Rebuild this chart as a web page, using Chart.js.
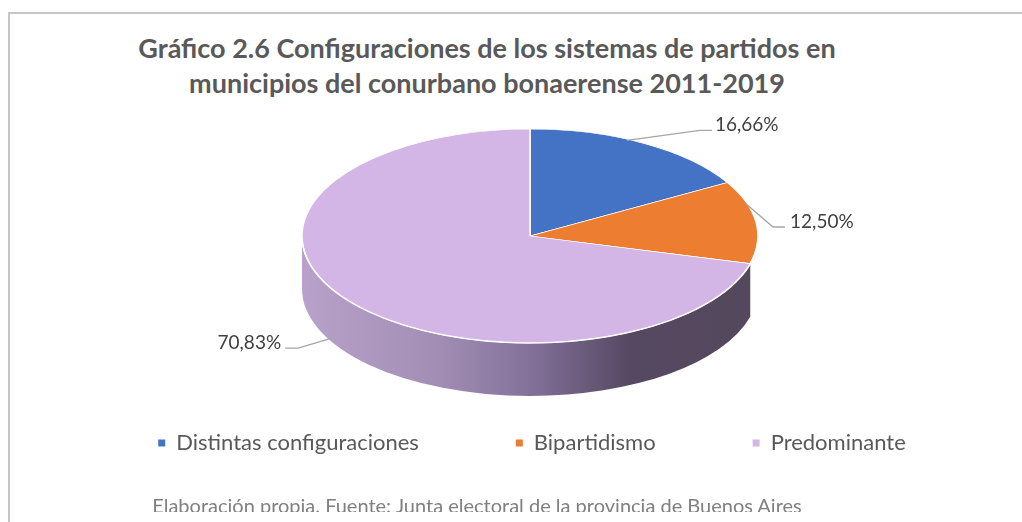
<!DOCTYPE html>
<html lang="es">
<head>
<meta charset="utf-8">
<title>Gráfico 2.6</title>
<script src="https://cdn.jsdelivr.net/npm/chart.js"></script>
<style>
  body { margin: 0; background: #fff; }
  #wrap { position: relative; width: 1022px; height: 522px; overflow: hidden; font-family: Lato, sans-serif; }
  #frame { position: absolute; left: 8px; top: 12px; width: 1040px; height: 600px; border: 2px solid #c6c6c6; box-sizing: border-box; }
  #title { position: absolute; left: 0; top: 30px; width: 974px; text-align: center; font-weight: bold; font-size: 27px; line-height: 35px; color: #595959; }
  #note { position: absolute; left: 0; top: 493px; width: 954px; height: 19px; overflow: hidden; text-align: center; font-size: 20px; line-height: 24px; color: #808080; }
  canvas { position: absolute; left: 0; top: 0; }
</style>
</head>
<body>
<div id="wrap">
  <div id="frame"></div>
  <div id="title">Gráfico 2.6 Configuraciones de los sistemas de partidos en<br>municipios del conurbano bonaerense 2011-2019</div>
  <canvas id="pieChart" width="1022" height="522"></canvas>
  <div id="note">Elaboración propia. Fuente: Junta electoral de la provincia de Buenos Aires</div>
</div>
<script>
// Datos del gráfico
const categories = ["Distintas configuraciones", "Bipartidismo", "Predominante"];
const shares = [16.66, 12.5, 70.83];
const sliceColors = ["#4472C4", "#ED7D31", "#D3B5E6"];

// Geometría del pastel 3D (centro, achatamiento y espesor)
const pie = { cx: 530, cy: 236, rx: 228, ry: 107, depth: 53 };

// Líneas guía de las etiquetas, relativas al punto medio del borde de cada porción
const leaderLayout = [
  { start: [-17, -3], elbow: [56, -13], end: [68, -13], text: [3, -5], align: "left" },
  { start: [-11, -19], elbow: [17, 5], end: [29, 5], text: [5, -5], align: "left" },
  { start: [-14, 36], elbow: [-51, 47], end: [-64, 47], text: [-4, -5], align: "right" },
];

function formatShare(v) {
  return v.toFixed(2).replace(".", ",") + "%";
}

// Degradado horizontal del lateral
function sideFill(ctx) {
  const g = ctx.createLinearGradient(pie.cx - pie.rx, 0, pie.cx + pie.rx, 0);
  g.addColorStop(0, "#b8a1ca");
  g.addColorStop(0.3, "#a28eb4");
  g.addColorStop(0.5, "#83719a");
  g.addColorStop(0.72, "#564862");
  g.addColorStop(1, "#54485c");
  return g;
}

const pie3d = {
  id: "pie3d",
  beforeDatasetsDraw(chart) {
    const ctx = chart.ctx;
    const arcs = chart.getDatasetMeta(0).data;
    const ref = arcs[0];

    // Lateral visible de la porción mayor, en la mitad delantera (0..PI)
    const big = arcs[arcs.length - 1];
    const a1 = Math.max(big.startAngle, 0);
    const a2 = Math.min(big.endAngle, Math.PI);
    ctx.save();
    ctx.beginPath();
    ctx.ellipse(pie.cx, pie.cy, pie.rx, pie.ry, 0, a1, a2, false);
    ctx.ellipse(pie.cx, pie.cy + pie.depth, pie.rx, pie.ry, 0, a2, a1, true);
    ctx.closePath();
    ctx.fillStyle = sideFill(ctx);
    ctx.fill();
    ctx.restore();

    // La tapa: el pastel de Chart.js achatado en vertical
    ctx.save();
    ctx.translate(pie.cx, pie.cy);
    ctx.scale(1, pie.ry / ref.outerRadius);
    ctx.translate(-ref.x, -ref.y);
  },
  afterDatasetsDraw(chart) {
    const ctx = chart.ctx;
    ctx.restore();

    // Brillo blanco en el canto delantero
    ctx.save();
    ctx.beginPath();
    ctx.ellipse(pie.cx, pie.cy, pie.rx, pie.ry, 0, 0.02, Math.PI - 0.02, false);
    ctx.strokeStyle = "rgba(255,255,255,0.9)";
    ctx.lineWidth = 1.5;
    ctx.stroke();
    ctx.restore();

    // Etiquetas de porcentaje con línea guía
    const arcs = chart.getDatasetMeta(0).data;
    ctx.save();
    ctx.font = "19px Lato";
    ctx.textBaseline = "middle";
    arcs.forEach((arc, i) => {
      const mid = (arc.startAngle + arc.endAngle) / 2;
      const px = pie.cx + pie.rx * Math.cos(mid);
      const py = pie.cy + pie.ry * Math.sin(mid);
      const lay = leaderLayout[i];
      ctx.beginPath();
      ctx.moveTo(px + lay.start[0], py + lay.start[1]);
      ctx.lineTo(px + lay.elbow[0], py + lay.elbow[1]);
      ctx.lineTo(px + lay.end[0], py + lay.end[1]);
      ctx.strokeStyle = "#a6a6a6";
      ctx.lineWidth = 1.3;
      ctx.stroke();
      ctx.fillStyle = "#404040";
      ctx.textAlign = lay.align;
      ctx.fillText(formatShare(shares[i]), px + lay.end[0] + lay.text[0], py + lay.end[1] + lay.text[1]);
    });
    ctx.restore();
  },
};

Chart.defaults.font.family = "Lato";

const ctx = document.getElementById("pieChart").getContext("2d");
const pieChart = new Chart(ctx, {
  type: "pie",
  data: {
    labels: categories,
    datasets: [
      {
        data: shares,
        backgroundColor: sliceColors,
        borderColor: "#ffffff",
        borderWidth: 1.5,
        radius: pie.rx,
        clip: false,
      },
    ],
  },
  options: {
    responsive: false,
    animation: false,
    devicePixelRatio: 1,
    events: [],
    layout: { padding: { left: 42, bottom: 58 } },
    plugins: {
      tooltip: { enabled: false },
      legend: {
        position: "bottom",
        labels: {
          boxWidth: 7,
          boxHeight: 7,
          padding: 97,
          color: "#595959",
          font: { family: "Lato", size: 22 },
          generateLabels: (chart) =>
            Chart.overrides.pie.plugins.legend.labels
              .generateLabels(chart)
              .map((item) => ({ ...item, lineWidth: 0 })),
        },
      },
    },
  },
  plugins: [pie3d],
});
</script>
</body>
</html>
